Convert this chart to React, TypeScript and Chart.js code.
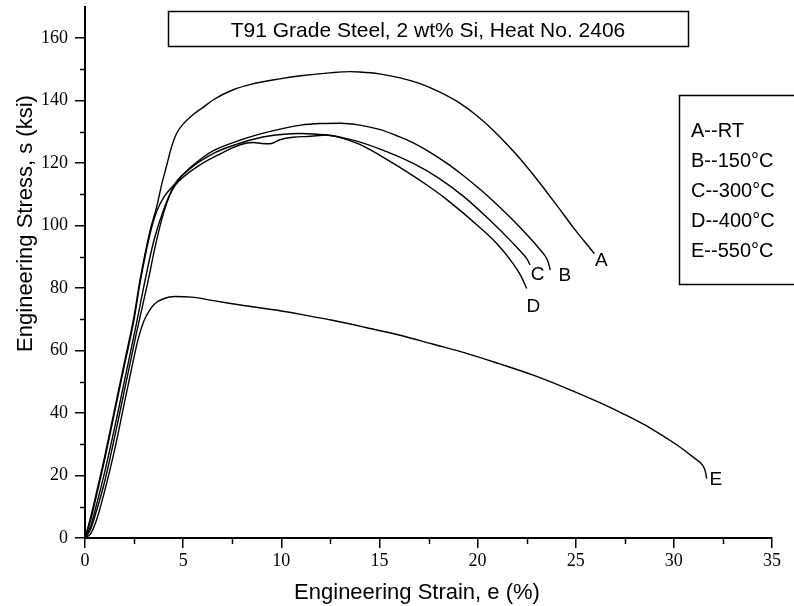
import { useEffect, useRef } from "react";
import { Chart, registerables } from "chart.js";

Chart.register(...registerables);

// ---- Data ----
const strainA = [0, 0.3, 0.6, 1.0, 1.6, 2.0, 2.5, 2.8, 3.3, 3.65, 3.9, 4.15, 4.4, 4.67, 5.0, 5.5, 6.0, 6.54, 7.55, 8.5, 9.93, 11.0, 12.6, 13.5, 14.0, 15.0, 16.0, 17.0, 18.0, 19.0, 20.0, 21.0, 22.0, 23.0, 24.0, 25.0, 25.8, 25.95];
const stressA = [0, 7, 15, 26, 44, 56, 71, 82.5, 98, 106, 113, 119, 125, 129.6, 132.5, 135.5, 137.8, 140.3, 143.5, 145.3, 147, 148, 149, 149.3, 149.2, 148.6, 147.4, 145.6, 143.0, 139.6, 135.0, 129.3, 122.6, 115.0, 106.8, 98.4, 92.2, 91];

const strainB = [0, 0.3, 0.6, 1.0, 1.6, 2.0, 2.5, 2.8, 3.3, 3.65, 4.0, 4.6, 5.35, 6.0, 6.54, 7.73, 9.08, 10.0, 11.0, 12.0, 13.0, 14.0, 15.0, 16.0, 16.7, 17.5, 18.5, 19.3, 20.5, 21.8, 22.6, 23.2, 23.45, 23.6, 23.7];
const stressB = [0, 6, 14, 25, 43, 55, 70, 81.5, 97, 104.5, 109, 113.5, 118.5, 121.8, 124, 127, 129.6, 131, 132.2, 132.7, 132.8, 132.2, 130.8, 128.5, 126.6, 123.8, 119.7, 115.9, 109.6, 101.8, 96.5, 92.2, 90.2, 88.3, 85.8];

const strainC = [0, 0.3, 0.6, 1.0, 1.6, 2.0, 2.6, 3.06, 3.5, 4.0, 4.6, 5.3, 6.5, 7.7, 9.0, 10.0, 11.0, 12.3, 13.5, 15.0, 16.7, 18.0, 19.3, 20.5, 21.8, 22.3, 22.55, 22.67];
const stressC = [0, 4, 11, 21, 38, 50, 68, 82.5, 95, 105, 113.5, 118, 123, 126, 128.3, 129.2, 129.5, 129, 127.6, 124.6, 120, 115.3, 109.3, 102.5, 94.4, 91.0, 89.0, 87.4];

const strainD = [0, 0.3, 0.6, 1.0, 1.6, 2.0, 2.6, 3.22, 3.6, 4.0, 4.3, 4.6, 5.0, 6.0, 7.0, 7.9, 8.57, 9.0, 9.42, 9.93, 10.6, 11.5, 12.3, 13.0, 14.0, 15.0, 16.0, 17.6, 18.5, 20.1, 21.0, 21.8, 22.2, 22.5];
const stressD = [0, 3, 9, 18, 35, 47, 65, 82.5, 94, 104, 109.5, 113, 115.5, 120, 123.3, 125.9, 126.6, 126.3, 126.2, 127.5, 128.3, 128.6, 129, 128.2, 126, 122.6, 118.8, 112.2, 108, 99.5, 94.1, 87.9, 84, 79.9];

const strainE = [0, 0.3, 0.6, 1.0, 1.5, 2.0, 2.4, 2.72, 3.0, 3.3, 3.57, 4.0, 4.58, 5.43, 6.62, 8.0, 9.93, 11.0, 12.6, 14.3, 16.05, 17.7, 19.4, 21.1, 22.8, 24.5, 26.2, 27.5, 28.8, 30.2, 31.0, 31.45, 31.6, 31.67];
const stressE = [0, 1.5, 6, 15, 28, 43, 55, 64, 69.5, 73, 75.1, 76.6, 77.3, 77.1, 75.9, 74.5, 72.75, 71.6, 69.7, 67.4, 64.9, 62.1, 59.2, 55.8, 52.2, 48.0, 43.4, 39.5, 35.2, 29.6, 25.8, 23.4, 21.4, 19];

const seriesLetters = ["A", "B", "C", "D", "E"];
const legendLines = ["A--RT", "B--150°C", "C--300°C", "D--400°C", "E--550°C"];
const chartTitle = "T91 Grade Steel, 2 wt% Si, Heat No. 2406";
const xAxisTitle = "Engineering Strain, e (%)";
const yAxisTitle = "Engineering Stress, s (ksi)";

const xTickValues = [0, 5, 10, 15, 20, 25, 30, 35];
const yTickValues = [0, 20, 40, 60, 80, 100, 120, 140, 160];
const xMinorValues = [2.5, 7.5, 12.5, 17.5, 22.5, 27.5, 32.5];
const yMinorValues = [10, 30, 50, 70, 90, 110, 130, 150];

// where the curve-end letters sit, in data units (strain, stress)
const labelStrain = [26.3, 24.45, 23.06, 22.84, 32.14];
const labelStress = [88.9, 83.9, 84.4, 74.0, 18.5];

const allStrain = [strainA, strainB, strainC, strainD, strainE];
const allStress = [stressA, stressB, stressC, stressD, stressE];

const SANS = '"Liberation Sans", Arial, Helvetica, sans-serif';
const SERIF = '"Liberation Serif", "Times New Roman", serif';

const decorPlugin = {
  id: "decor",
  afterDraw(chart: any) {
    const { ctx, chartArea } = chart;
    const xs = chart.scales.x;
    const ys = chart.scales.y;
    ctx.save();
    ctx.strokeStyle = "#000";
    ctx.fillStyle = "#000";
    ctx.lineWidth = 1.5;
    // minor ticks
    xMinorValues.forEach((v) => {
      const px = Math.round(xs.getPixelForValue(v)) + 0.5;
      ctx.beginPath();
      ctx.moveTo(px, chartArea.bottom);
      ctx.lineTo(px, chartArea.bottom + 6);
      ctx.stroke();
    });
    yMinorValues.forEach((v) => {
      const py = Math.round(ys.getPixelForValue(v)) + 0.5;
      ctx.beginPath();
      ctx.moveTo(chartArea.left, py);
      ctx.lineTo(chartArea.left - 5, py);
      ctx.stroke();
    });

    // title box
    ctx.lineWidth = 1.5;
    ctx.strokeRect(168.5, 11.5, 520, 35);
    ctx.font = `21px ${SANS}`;
    ctx.textAlign = "center";
    ctx.textBaseline = "alphabetic";
    ctx.fillText(chartTitle, 428, 37);

    // legend box (runs off the right edge as in the reference)
    ctx.strokeRect(679.5, 95.5, 200, 189);
    ctx.font = `20px ${SANS}`;
    ctx.textAlign = "left";
    legendLines.forEach((t, i) => ctx.fillText(t, 691, 137 + i * 30));

    // curve letters
    ctx.font = `19px ${SANS}`;
    ctx.textAlign = "center";
    ctx.textBaseline = "middle";
    seriesLetters.forEach((s, i) => {
      ctx.fillText(s, xs.getPixelForValue(labelStrain[i]), ys.getPixelForValue(labelStress[i]));
    });

    // axis titles
    ctx.font = `22px ${SANS}`;
    ctx.textBaseline = "alphabetic";
    ctx.fillText(xAxisTitle, 417, 599);
    ctx.translate(32, 223.5);
    ctx.rotate(-Math.PI / 2);
    ctx.fillText(yAxisTitle, 0, 0);
    ctx.restore();
  },
};

export default function App() {
  const canvasRef = useRef<HTMLCanvasElement | null>(null);

  useEffect(() => {
    if (!canvasRef.current) return;
    const datasets = allStrain.map((xsArr, i) => ({
      label: seriesLetters[i],
      data: xsArr.map((x, j) => ({ x, y: allStress[i][j] })),
      showLine: true,
      borderColor: "#000",
      backgroundColor: "#000",
      borderWidth: 1.4,
      pointRadius: 0,
      cubicInterpolationMode: "monotone" as const,
      fill: false,
    }));

    const chart = new Chart(canvasRef.current, {
      type: "scatter",
      data: { datasets },
      options: {
        animation: false,
        responsive: false,
        layout: { padding: { top: 7, right: 22, left: 0, bottom: 0 } },
        plugins: {
          legend: { display: false },
          tooltip: { enabled: false },
          title: { display: false },
        },
        scales: {
          x: {
            type: "linear",
            min: 0,
            max: 35,
            afterBuildTicks: (scale: any) => {
              scale.ticks = xTickValues.map((v) => ({ value: v }));
            },
            afterFit: (scale: any) => {
              scale.height = 68;
              scale.paddingLeft = 0;
              scale.paddingRight = 0;
            },
            ticks: {
              color: "#000",
              font: { family: SERIF, size: 18 },
              padding: 2,
              maxRotation: 0,
              autoSkip: false,
            },
            grid: {
              drawOnChartArea: false,
              drawTicks: true,
              tickLength: 10,
              color: "#000",
              tickColor: "#000",
              lineWidth: 1.5,
            },
            border: { display: true, color: "#000", width: 2 },
          },
          y: {
            type: "linear",
            min: 0,
            max: 170,
            afterBuildTicks: (scale: any) => {
              scale.ticks = yTickValues.map((v) => ({ value: v }));
            },
            afterFit: (scale: any) => {
              scale.width = 85;
              scale.paddingTop = 0;
              scale.paddingBottom = 0;
            },
            ticks: {
              color: "#000",
              font: { family: SERIF, size: 18 },
              padding: 7,
              autoSkip: false,
            },
            grid: {
              drawOnChartArea: false,
              drawTicks: true,
              tickLength: 10,
              color: "#000",
              tickColor: "#000",
              lineWidth: 1.5,
            },
            border: { display: true, color: "#000", width: 2 },
          },
        },
      },
      plugins: [decorPlugin],
    });
    return () => chart.destroy();
  }, []);

  return (
    <div style={{ position: "absolute", left: 0, top: 0, width: 794, height: 606, background: "#fff" }}>
      <canvas ref={canvasRef} width={794} height={606} style={{ display: "block", width: 794, height: 606 }} />
    </div>
  );
}
